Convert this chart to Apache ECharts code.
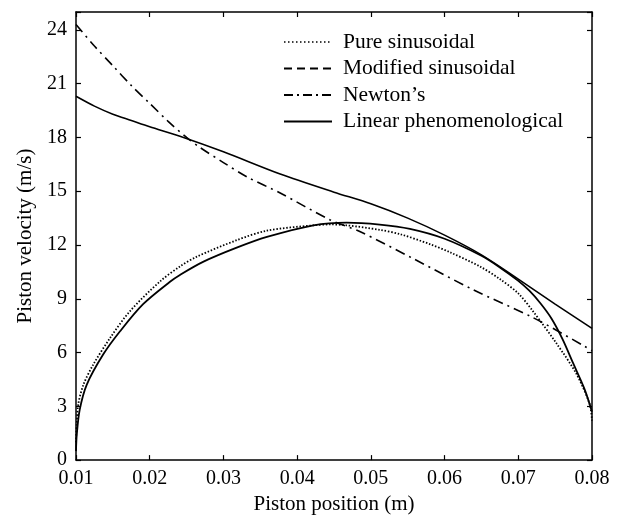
<!DOCTYPE html>
<html>
<head>
<meta charset="utf-8">
<script src="https://cdn.jsdelivr.net/npm/echarts@6/dist/echarts.min.js"></script>
<style>html,body{margin:0;padding:0;background:#fff}#c{width:623px;height:520px}</style>
</head>
<body>
<div id="c"></div>
<script>
// Tick labels / axis setup values
const xTicks = [0.01, 0.02, 0.03, 0.04, 0.05, 0.06, 0.07, 0.08];
const yTicks = [0, 3, 6, 9, 12, 15, 18, 21, 24];
const seriesNames = ['Pure sinusoidal', 'Modified sinusoidal', "Newton\u2019s", 'Linear phenomenological'];

// Pure sinusoidal (dotted)
const pureX = [0.01, 0.0101, 0.0103, 0.011, 0.0123, 0.0146, 0.0173, 0.0214, 0.0241, 0.0264, 0.0318, 0.0359, 0.0422, 0.0445, 0.0467, 0.0512, 0.054, 0.058, 0.0607, 0.0648, 0.0675, 0.07, 0.072, 0.0752, 0.0779, 0.0797, 0.08];
const pureY = [1.0, 2.0, 3.1, 4.2, 5.3, 6.8, 8.3, 9.97, 10.8, 11.35, 12.27, 12.8, 13.1, 13.15, 13.1, 12.85, 12.6, 12.05, 11.6, 10.8, 10.1, 9.3, 8.3, 6.5, 4.8, 3.1, 2.2];

// Modified sinusoidal (dashed in legend)
const modX = [0.01, 0.0101, 0.0105, 0.01145, 0.0137, 0.016, 0.0191, 0.02275, 0.0241, 0.0273, 0.0318, 0.0359, 0.0422, 0.0467, 0.0512, 0.0553, 0.06, 0.065, 0.0675, 0.07, 0.0715, 0.073, 0.0745, 0.076, 0.0775, 0.079, 0.08];
const modY = [0.5, 1.4, 2.8, 4.2, 5.9, 7.2, 8.7, 9.95, 10.33, 11.07, 11.85, 12.45, 13.1, 13.25, 13.14, 12.9, 12.35, 11.4, 10.75, 10.0, 9.45, 8.75, 7.9, 6.75, 5.35, 3.95, 2.7];

// Newton's (dash-dot)
const newtonX = [0.01, 0.0125, 0.015, 0.0175, 0.02, 0.0225, 0.025, 0.0268, 0.03, 0.0332, 0.0377, 0.0445, 0.0485, 0.0557, 0.0639, 0.072, 0.079, 0.08];
const newtonY = [24.3, 23.1, 22.0, 20.9, 19.9, 18.9, 18.0, 17.45, 16.6, 15.8, 14.9, 13.4, 12.75, 11.25, 9.5, 7.95, 6.35, 6.1];

// Linear phenomenological (solid)
const linX = [0.01, 0.0125, 0.015, 0.0175, 0.02, 0.0241, 0.03, 0.0377, 0.045, 0.05, 0.055, 0.06, 0.065, 0.07, 0.075, 0.08];
const linY = [20.3, 19.75, 19.3, 18.95, 18.6, 18.07, 17.2, 15.96, 14.95, 14.3, 13.5, 12.55, 11.45, 10.1, 8.7, 7.35];

const pairs = (xs, ys) => xs.map((x, i) => [x, ys[i]]);

const FONT = 'Liberation Serif';
const axisLineStyle = { color: '#000', width: 1.5 };

const chart = echarts.init(document.getElementById('c'), null, { renderer: 'canvas' });

const xCommon = {
  type: 'value', min: xTicks[0], max: xTicks[xTicks.length - 1], interval: 0.01,
  splitLine: { show: false },
  axisLine: { show: true, onZero: false, lineStyle: axisLineStyle },
  axisTick: { show: true, inside: true, length: 5, lineStyle: { color: '#000', width: 1.2 } }
};
const yCommon = {
  type: 'value', min: 0, max: 25, interval: 3,
  splitLine: { show: false },
  axisLine: { show: true, onZero: false, lineStyle: axisLineStyle },
  axisTick: { show: true, inside: true, length: 5, lineStyle: { color: '#000', width: 1.2 } }
};

const hiddenSymbol = { opacity: 0, color: 'rgba(0,0,0,0)', borderWidth: 0 };

const option = {
  backgroundColor: '#fff',
  animation: false,
  grid: { left: 76, right: 31, top: 12, bottom: 57 },
  legend: {
    orient: 'vertical', left: 283, top: 31, padding: 0,
    itemWidth: 48, itemHeight: 14, itemGap: 4.5,
    itemStyle: hiddenSymbol,
    textStyle: { fontFamily: FONT, fontSize: 21.5, color: '#000', lineHeight: 22, padding: [0, 0, 0, 6] },
    data: [
      { name: seriesNames[0], itemStyle: hiddenSymbol, lineStyle: { type: [1.5, 2.5], width: 1.3, color: '#000' } },
      { name: seriesNames[1], itemStyle: hiddenSymbol, lineStyle: { type: [8, 5], width: 2, color: '#000' } },
      { name: seriesNames[2], itemStyle: hiddenSymbol, lineStyle: { type: [9, 4, 2, 4], width: 2, color: '#000' } },
      { name: seriesNames[3], itemStyle: hiddenSymbol, lineStyle: { type: 'solid', width: 2, color: '#000' } }
    ]
  },
  xAxis: [
    Object.assign({}, xCommon, {
      position: 'bottom',
      name: 'Piston position (m)', nameLocation: 'middle', nameGap: 26,
      nameTextStyle: { fontFamily: FONT, fontSize: 21, color: '#000' },
      axisLabel: {
        fontFamily: FONT, fontSize: 20, color: '#000', margin: 9,
        formatter: v => v.toFixed(2)
      }
    }),
    Object.assign({}, xCommon, { position: 'top', axisLabel: { show: false } })
  ],
  yAxis: [
    Object.assign({}, yCommon, {
      position: 'left',
      name: 'Piston velocity (m/s)', nameLocation: 'middle', nameGap: 37,
      nameTextStyle: { fontFamily: FONT, fontSize: 21, color: '#000' },
      axisLabel: {
        fontFamily: FONT, fontSize: 20, color: '#000', margin: 9,
        formatter: v => (yTicks.indexOf(Math.round(v)) >= 0 && Math.abs(v - Math.round(v)) < 1e-6) ? String(Math.round(v)) : ''
      }
    }),
    Object.assign({}, yCommon, { position: 'right', axisLabel: { show: false } })
  ],
  series: [
    {
      name: seriesNames[0], type: 'line', symbol: 'none', smooth: 0.3,
      itemStyle: { color: '#000' },
      lineStyle: { color: '#000', width: 1.8, type: [1.5, 1.8] },
      data: pairs(pureX, pureY)
    },
    {
      name: seriesNames[1], type: 'line', symbol: 'none', smooth: 0.3,
      itemStyle: { color: '#000' },
      lineStyle: { color: '#000', width: 1.8, type: 'solid' },
      data: pairs(modX, modY)
    },
    {
      name: seriesNames[2], type: 'line', symbol: 'none', smooth: 0.3,
      itemStyle: { color: '#000' },
      lineStyle: { color: '#000', width: 1.6, type: [10, 5, 2, 5] },
      data: pairs(newtonX, newtonY)
    },
    {
      name: seriesNames[3], type: 'line', symbol: 'none', smooth: 0.3,
      itemStyle: { color: '#000' },
      lineStyle: { color: '#000', width: 1.6, type: 'solid' },
      data: pairs(linX, linY)
    }
  ]
};
chart.setOption(option);
</script>
</body>
</html>
